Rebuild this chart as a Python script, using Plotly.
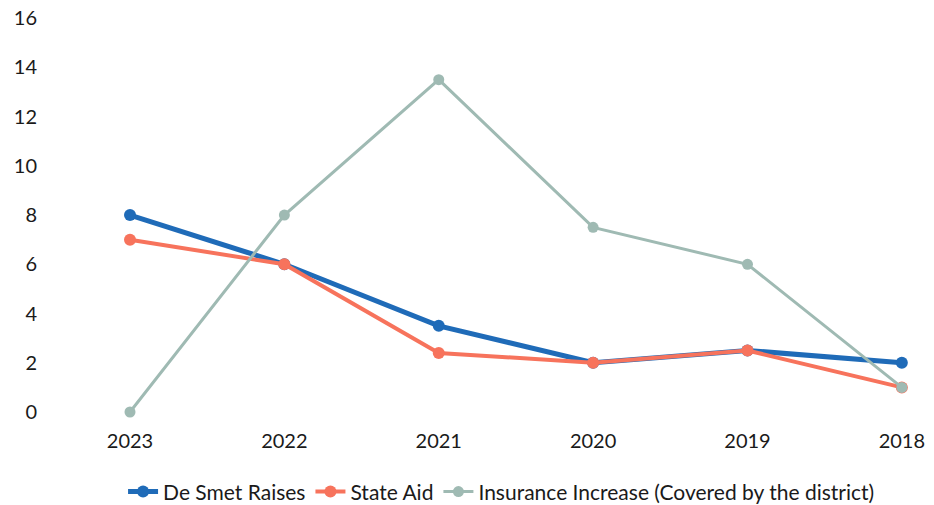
import plotly.graph_objects as go

years = ["2023", "2022", "2021", "2020", "2019", "2018"]
de_smet = [8, 6, 3.5, 2, 2.5, 2]
state_aid = [7, 6, 2.4, 2, 2.5, 1]
insurance = [0, 8, 13.5, 7.5, 6, 1]
y_ticks = [0, 2, 4, 6, 8, 10, 12, 14, 16]

fig = go.Figure()
fig.add_trace(go.Scatter(x=years, y=de_smet, name="De Smet Raises", mode="lines+markers",
                         line=dict(color="#1f6bb8", width=5), marker=dict(size=12, color="#1f6bb8")))
fig.add_trace(go.Scatter(x=years, y=state_aid, name="State Aid", mode="lines+markers",
                         line=dict(color="#f7735c", width=4), marker=dict(size=12, color="#f7735c")))
fig.add_trace(go.Scatter(x=years, y=insurance, name="Insurance Increase (Covered by the district)", mode="lines+markers",
                         line=dict(color="#9fbab3", width=3), marker=dict(size=11, color="#9fbab3")))

fig.update_layout(
    width=934, height=505,
    margin=dict(l=38, r=9, t=8, b=83, autoexpand=False),
    paper_bgcolor="white", plot_bgcolor="white",
    font=dict(family="Lato, Open Sans, sans-serif", size=20, color="#1a1a1a"),
    xaxis=dict(type="category", range=[-0.596, 5.15], showgrid=False, zeroline=False,
               showline=False, ticks="", tickfont=dict(size=20), automargin=False,
               ticklabelstandoff=5),
    yaxis=dict(range=[-0.406, 16.41], tickvals=y_ticks, showgrid=False, zeroline=False,
               showline=False, ticks="", tickfont=dict(size=20), automargin=False),
    legend=dict(orientation="h", xref="container", yref="container", xanchor="center", x=0.537,
                yanchor="middle", y=0.026, font=dict(size=21), traceorder="normal"),
    showlegend=True,
)

fig.write_html("out.html")
